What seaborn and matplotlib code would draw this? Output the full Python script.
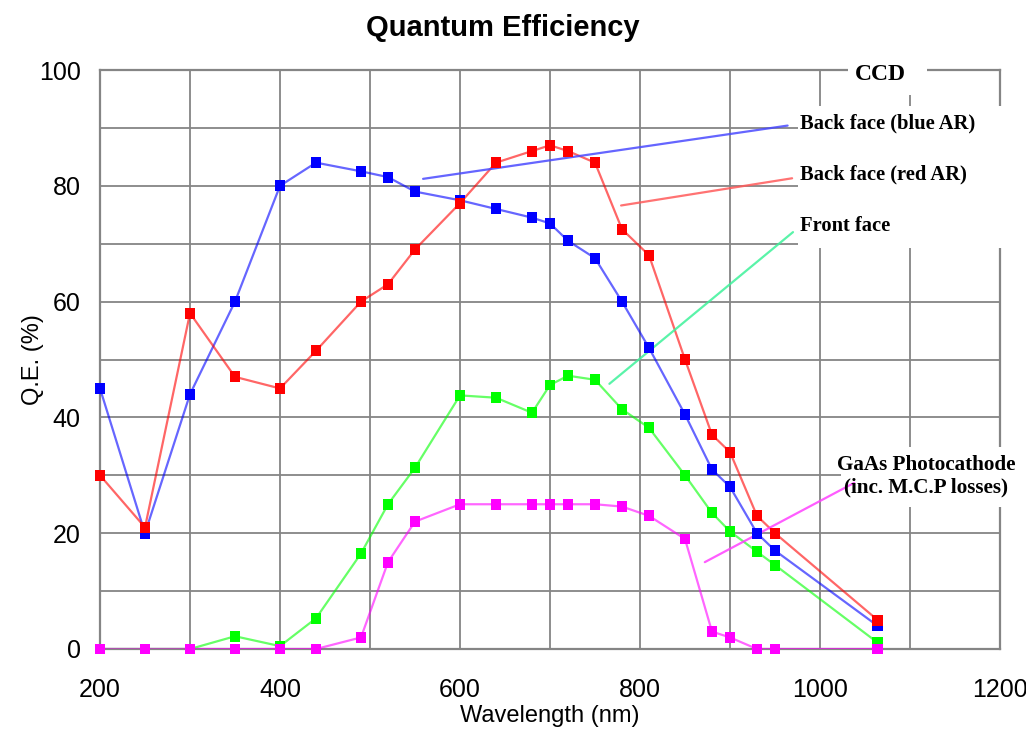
'''
Courbes d'efficacite quantique (CCD et photocathode GaAs).
'''
import matplotlib.pyplot as plt
from matplotlib.patches import Rectangle
from matplotlib.ticker import MultipleLocator
import pandas as pd
import seaborn as sns

# Donnees
wavelength = [200, 250, 300, 350, 400, 440, 490, 520, 550, 600, 640, 680,
              700, 720, 750, 780, 810, 850, 880, 900, 930, 950, 1064]
back_blue = [45, 20, 44, 60, 80, 84, 82.5, 81.5, 79, 77.5, 76, 74.5,
             73.5, 70.5, 67.5, 60, 52, 40.5, 31, 28, 20, 17, 4]
back_red = [30, 21, 58, 47, 45, 51.5, 60, 63, 69, 77, 84, 86,
            87, 86, 84, 72.5, 68, 50, 37, 34, 23, 20, 5]
front = [0, 0, 0, 2.2, 0.5, 5.3, 16.5, 25, 31.3, 43.8, 43.4, 40.8,
         45.6, 47.2, 46.5, 41.4, 38.2, 30, 23.5, 20.3, 16.8, 14.5, 1.1]
gaas = [0, 0, 0, 0, 0, 0, 2, 15, 22, 25, 25, 25,
        25, 25, 25, 24.6, 23, 19, 3, 2, 0, 0, 0]

series_names = ['Back face (blue AR)', 'Back face (red AR)', 'Front face',
                'GaAs Photocathode\n(inc. M.C.P losses)']
series_colors = ['#0000ff', '#ff0000', '#00ff00', '#ff00ff']
leader_colors = ['#4a4aff', '#ff5a5a', '#3df29a', '#ff40ff']

# traits de rappel (x1, x2), (y1, y2)
leader_x = [(559, 964), (779, 969), (766, 970), (872, 1038)]
leader_y = [(81.2, 90.4), (76.6, 81.3), (45.8, 72.0), (15.0, 28.7)]
label_x = [978, 978, 978, 1118]
label_y = [90.8, 82.0, 73.1, 29.8]

df = pd.DataFrame({
    'wavelength': wavelength * 4,
    'qe': back_blue + back_red + front + gaas,
    'series': [n for n in series_names for _ in wavelength],
})
palette = dict(zip(series_names, series_colors))

sns.set_style('white')
plt.rcParams['font.family'] = ['Liberation Sans', 'DejaVu Sans']
plt.rcParams['text.color'] = 'black'

fig, ax = plt.subplots(figsize=(10.26, 7.29), dpi=100)
fig.subplots_adjust(left=100 / 1026, right=1000 / 1026,
                    top=1 - 70 / 729, bottom=1 - 649 / 729)

grey = '#858585'
sns.lineplot(data=df, x='wavelength', y='qe', hue='series', palette=palette,
             estimator=None, sort=False, lw=1.6, alpha=0.6, legend=False,
             ax=ax, zorder=4)
sns.scatterplot(data=df, x='wavelength', y='qe', hue='series',
                palette=palette, marker='s', s=62, linewidth=0,
                legend=False, ax=ax, zorder=5, clip_on=False)

ax.set_xlim(200, 1200)
ax.set_ylim(0, 100)
ax.xaxis.set_major_locator(MultipleLocator(200))
ax.xaxis.set_minor_locator(MultipleLocator(100))
ax.yaxis.set_major_locator(MultipleLocator(20))
ax.yaxis.set_minor_locator(MultipleLocator(10))
ax.grid(True, which='both', color=grey, lw=1.3)
ax.set_axisbelow(True)
for sp in ax.spines.values():
    sp.set_color(grey)
    sp.set_linewidth(1.6)
ax.tick_params(which='major', direction='out', length=6, width=1.2,
               color='#b0b0b0', labelsize=18, labelcolor='black', pad=8)
ax.tick_params(which='minor', direction='out', length=4, width=1.2,
               color='#b0b0b0')
ax.tick_params(axis='x', which='major', pad=15)

ax.set_xlabel('Wavelength (nm)', fontsize=17, color='black')
ax.set_ylabel('Q.E. (%)', fontsize=17, color='black')
ax.xaxis.set_label_coords(0.5, -0.097)
ax.yaxis.set_label_coords(-0.062, 0.5)

fig.text(503 / 1026, 1 - 28 / 729, 'Quantum Efficiency', ha='center',
         va='center', fontsize=21, fontweight='bold')

# fonds blancs derriere les etiquettes
for (x0, x1), (y0, y1) in [((975, 1240), (69.3, 93.7)),
                           ((1023, 1240), (24.6, 34.9)),
                           ((1031, 1119), (95.7, 104))]:
    ax.add_patch(Rectangle((x0, y0), x1 - x0, y1 - y0, facecolor='white',
                           edgecolor='none', zorder=3, clip_on=False))

serif = ['Liberation Serif', 'DejaVu Serif']
for i in range(4):
    ax.plot(leader_x[i], leader_y[i], color=leader_colors[i], lw=1.6,
            alpha=0.85, zorder=4, clip_on=False)
    ax.text(label_x[i], label_y[i], series_names[i],
            ha='left' if i < 3 else 'center', va='center',
            fontsize=14.8 if i < 3 else 15.2, fontweight='bold',
            family=serif, zorder=6, clip_on=False, linespacing=1.15)
ax.text(1067, 99.2, 'CCD', ha='center', va='center', fontsize=17,
        fontweight='bold', family=serif, zorder=6, clip_on=False)

fig.savefig('out.png', dpi=100)
